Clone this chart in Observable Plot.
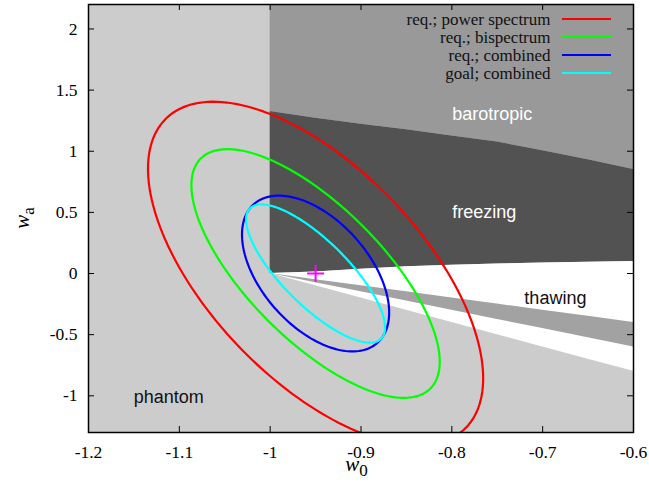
<!DOCTYPE html>
<html><head><meta charset="utf-8">
<script src="https://cdn.jsdelivr.net/npm/d3@7"></script>
<script src="https://cdn.jsdelivr.net/npm/@observablehq/plot@0.6"></script>
<style>body{margin:0;background:#fff} svg{display:block}</style>
</head><body><div id="chart"></div>
<script>
// ---- axes ----
const xTicks = [-1.2, -1.1, -1, -0.9, -0.8, -0.7, -0.6];
const yTicks = [-1, -0.5, 0, 0.5, 1, 1.5, 2];
const xDomain = [-1.2, -0.6];
const yDomain = [-1.3, 2.2];

// ---- forecast ellipses ----
const seriesNames  = ["req.; power spectrum", "req.; bispectrum", "req.; combined", "goal; combined"];
const seriesColors = ["#ff0000", "#00ff00", "#0000ff", "#00ffff"];
const fiducialW0 = -0.95;
const fiducialWa = 0;
const sigmaW0 = [0.1845, 0.1367, 0.081, 0.0765];
const sigmaWa = [1.405, 1.017, 0.637, 0.565];
const corrW0Wa = [-0.61, -0.71, -0.50, -0.78];

// ---- model regions (boundaries) ----
const boundaryW0     = [-1, -0.95, -0.9, -0.85, -0.8, -0.75, -0.7, -0.65, -0.6];
const freezingTop    = [1.325, 1.27, 1.22, 1.175, 1.125, 1.075, 1.005, 0.93, 0.85];
const freezingBottom = [0, 0.012, 0.035, 0.055, 0.068, 0.078, 0.086, 0.092, 0.098];
const bandTop        = [0, -0.05, -0.1, -0.15, -0.2, -0.25, -0.3, -0.35, -0.4];
const bandBottom     = [0, -0.075, -0.15, -0.225, -0.3, -0.375, -0.45, -0.525, -0.6];
const phantomEdge    = [0, -0.1, -0.2, -0.3, -0.4, -0.5, -0.6, -0.7, -0.8];

const regionNames = ["barotropic", "freezing", "thawing", "phantom"];
const regionW0    = [-0.7554, -0.7642, -0.686, -1.1117];
const regionWa    = [1.305, 0.502, -0.203, -1.01];
const regionOnDark = [true, true, false, false];

// ---- build tables ----
const regions = boundaryW0.map((w0, i) => ({
  w0, top: freezingTop[i], bottom: freezingBottom[i],
  bandTop: bandTop[i], bandBottom: bandBottom[i], phantom: phantomEdge[i], sky: yDomain[1]
}));
const ellipses = [];
seriesNames.forEach((name, k) => {
  const sx = sigmaW0[k], sy = sigmaWa[k], r = corrW0Wa[k], q = Math.sqrt(1 - r * r);
  for (let a = 0; a <= 360; a += 2) {
    const t = a * Math.PI / 180;
    ellipses.push({series: name, w0: fiducialW0 + sx * Math.cos(t),
      wa: fiducialWa + sy * (r * Math.cos(t) + q * Math.sin(t))});
  }
});
const labelRows = regionNames.map((label, i) => ({label, w0: regionW0[i], wa: regionWa[i], dark: regionOnDark[i]}));

const W = 649, H = 487, mL = 88, mR = 16, mT = 4, mB = 55;
const fw = W - mL - mR, fh = H - mT - mB;
const serif = "Liberation Serif";
const sans = "Liberation Sans";

const marks = [
  Plot.frame({fill: "#cccccc"}),
  Plot.areaY(regions, {x: "w0", y1: "top", y2: "sky", fill: "#999999"}),
  Plot.areaY(regions, {x: "w0", y1: "bottom", y2: "top", fill: "#525252"}),
  Plot.areaY(regions, {x: "w0", y1: "phantom", y2: "bottom", fill: "#ffffff"}),
  Plot.areaY(regions, {x: "w0", y1: "bandBottom", y2: "bandTop", fill: "#a2a2a2"}),
  Plot.text(labelRows.filter(d => d.dark), {x: "w0", y: "wa", text: "label", fill: "white", fontFamily: sans, fontSize: 18}),
  Plot.text(labelRows.filter(d => !d.dark), {x: "w0", y: "wa", text: "label", fill: "#111", fontFamily: sans, fontSize: 18}),
  Plot.line(ellipses, {x: "w0", y: "wa", z: "series", stroke: "series", strokeWidth: 2.2, clip: true}),
  Plot.dot([{w0: fiducialW0, wa: fiducialWa}], {x: "w0", y: "wa", symbol: "plus", r: 5.5, stroke: "#ff00ff", strokeWidth: 2}),
  // inward ticks on all four sides
  Plot.tickY(yTicks, {y: d => d, insetRight: fw - 6, stroke: "black"}),
  Plot.tickY(yTicks, {y: d => d, insetLeft: fw - 6, stroke: "black"}),
  Plot.tickX(xTicks, {x: d => d, insetTop: fh - 6, stroke: "black"}),
  Plot.tickX(xTicks, {x: d => d, insetBottom: fh - 6, stroke: "black"}),
  // tick labels
  Plot.text(xTicks, {x: d => d, text: d => String(d), frameAnchor: "bottom", lineAnchor: "top", dy: 13, fontFamily: serif, fontSize: 17.5, fill: "black"}),
  Plot.text(yTicks, {y: d => d, text: d => String(d), frameAnchor: "left", textAnchor: "end", dx: -11, fontFamily: serif, fontSize: 17.5, fill: "black"}),
  Plot.frame({stroke: "black", strokeWidth: 1.5}),
  ...seriesNames.map((name, i) => Plot.text([name], {frameAnchor: "top-right", lineAnchor: "middle", text: d => d, dx: -83, dy: 15 + 18 * i, textAnchor: "end", fontFamily: serif, fontSize: 17, fill: "#111"}))
];

const svg = Plot.plot({
  width: W, height: H,
  marginLeft: mL, marginRight: mR, marginTop: mT, marginBottom: mB,
  x: {domain: xDomain, axis: null},
  y: {domain: yDomain, axis: null},
  color: {domain: seriesNames, range: seriesColors},
  style: {fontFamily: serif, fontSize: "17.5px", color: "black", background: "white"},
  marks
});
document.getElementById("chart").appendChild(svg);

// legend samples and axis titles
const s = d3.select(svg);
seriesNames.forEach((name, i) => {
  s.append("line").attr("x1", W - mR - 71).attr("x2", W - mR - 22)
    .attr("y1", mT + 15 + 18 * i).attr("y2", mT + 15 + 18 * i)
    .attr("stroke", seriesColors[i]).attr("stroke-width", 2.2);
});
const xt = s.append("text").attr("x", mL + fw / 2 - 4).attr("y", H - 16)
  .attr("text-anchor", "middle").attr("font-family", serif).attr("font-size", 21).attr("fill", "black");
xt.append("tspan").attr("font-style", "italic").text("w");
xt.append("tspan").attr("font-size", 17).attr("dy", 5).text("0");
const yt = s.append("text").attr("transform", `translate(29,${mT + fh / 2}) rotate(-90)`)
  .attr("text-anchor", "middle").attr("font-family", serif).attr("font-size", 21).attr("fill", "black");
yt.append("tspan").attr("font-style", "italic").text("w");
yt.append("tspan").attr("font-size", 17).attr("dy", 5).text("a");
</script>
</body></html>
